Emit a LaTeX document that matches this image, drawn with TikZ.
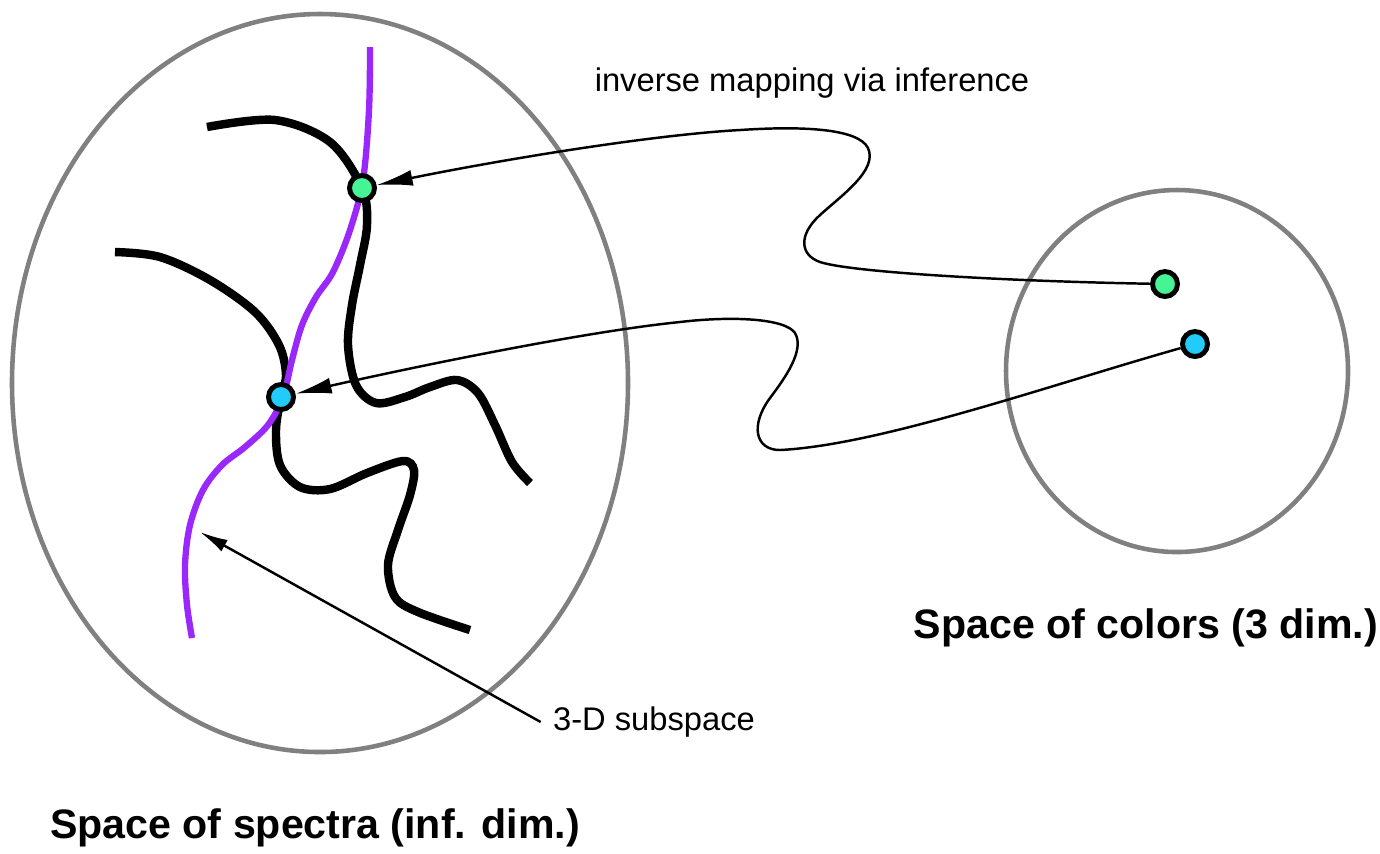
\documentclass[tikz,border=0pt]{standalone}
\usepackage{fontspec}
\setmainfont{Liberation Sans}
\usetikzlibrary{arrows.meta}
\definecolor{dotgreen}{RGB}{70,244,150}
\definecolor{dotblue}{RGB}{34,204,250}
\definecolor{lilac}{RGB}{155,40,250}
\definecolor{rimgray}{RGB}{128,128,128}

\begin{document}
\begin{tikzpicture}[x=0.01cm, y=-0.01cm,
    dot/.style={circle, draw=black, line width=1.4pt, minimum size=2.5mm, inner sep=0pt},
    wiggle/.style={line width=2.4pt, smooth, tension=0.55},
    rim/.style={draw=rimgray, line width=1.3pt},
    infer/.style={line width=0.7pt, -{Latex[length=3.6mm,width=1.6mm]}},
    label/.style={font=\fontsize{9.3}{11}\selectfont},
    title/.style={font=\fontsize{11.7}{14}\selectfont\bfseries}]
    \useasboundingbox (0, 0) rectangle (1380, 853);

    \draw[rim] (320, 383) ellipse [x radius=308, y radius=369];
    \draw[rim] (1177, 371) ellipse [x radius=171, y radius=181];

    \draw[wiggle] plot coordinates {(207, 127) (275, 120) (330, 142)
        (362, 188) (367, 225) (360, 265) (352, 305) (348, 345) (356, 385)
        (376, 403) (405, 397) (430, 387) (457, 380) (478, 393) (495, 425)
        (512, 462) (530, 483)};
    \draw[wiggle] plot coordinates {(115, 252) (160, 257) (210, 280) (255, 312)
        (279, 345) (286, 375) (281, 397) (276, 430) (280, 465) (300, 487)
        (330, 489) (367, 473) (403, 461) (414, 470) (410, 495) (398, 530)
        (388, 565) (395, 597) (418, 612) (470, 630)};
    \draw[lilac, line width=1.8pt, smooth, tension=0.55] plot coordinates {
        (370, 47) (369, 110) (363, 180) (350, 230) (333, 272) (316, 297)
        (302, 325) (292, 360) (283, 397) (268, 425) (245, 447) (222, 465)
        (203, 490) (190, 525) (185, 565) (187, 605) (192, 638)};

    \node[dot, fill=dotgreen] (gL) at (362, 188) {};
    \node[dot, fill=dotblue] (bL) at (281, 397) {};
    \node[dot, fill=dotgreen] (gR) at (1165, 284) {};
    \node[dot, fill=dotblue] (bR) at (1195, 344) {};

    \draw[infer] (gR) .. controls (1000, 281) and (850, 272) .. (820, 262)
        .. controls (800, 255) and (798, 235) .. (820, 215)
        .. controls (842, 195) and (878, 170) .. (868, 148)
        .. controls (858, 128) and (800, 126) .. (740, 130)
        .. controls (650, 135) and (500, 160) .. (gL);
    \draw[infer] (bR) .. controls (1050, 385) and (880, 445) .. (780, 450)
        .. controls (755, 450) and (750, 425) .. (770, 398)
        .. controls (785, 378) and (805, 350) .. (795, 333)
        .. controls (785, 318) and (730, 316) .. (680, 322)
        .. controls (580, 332) and (400, 370) .. (bL);

    \node[label] (inv) at (812, 83) {inverse mapping via inference};
    \node[label] (sub) at (654, 722) {3-D subspace};
    \coordinate (subtip) at (200, 532);
    \draw[line width=0.7pt, -{Latex[length=2.8mm,width=1.3mm]}] (sub.west) -- (subtip);

    \node[title] (spec) at (315, 828) {Space of spectra (inf. dim.)};
    \node[title] (col) at (1146, 628) {Space of colors (3 dim.)};
\end{tikzpicture}
\end{document}
